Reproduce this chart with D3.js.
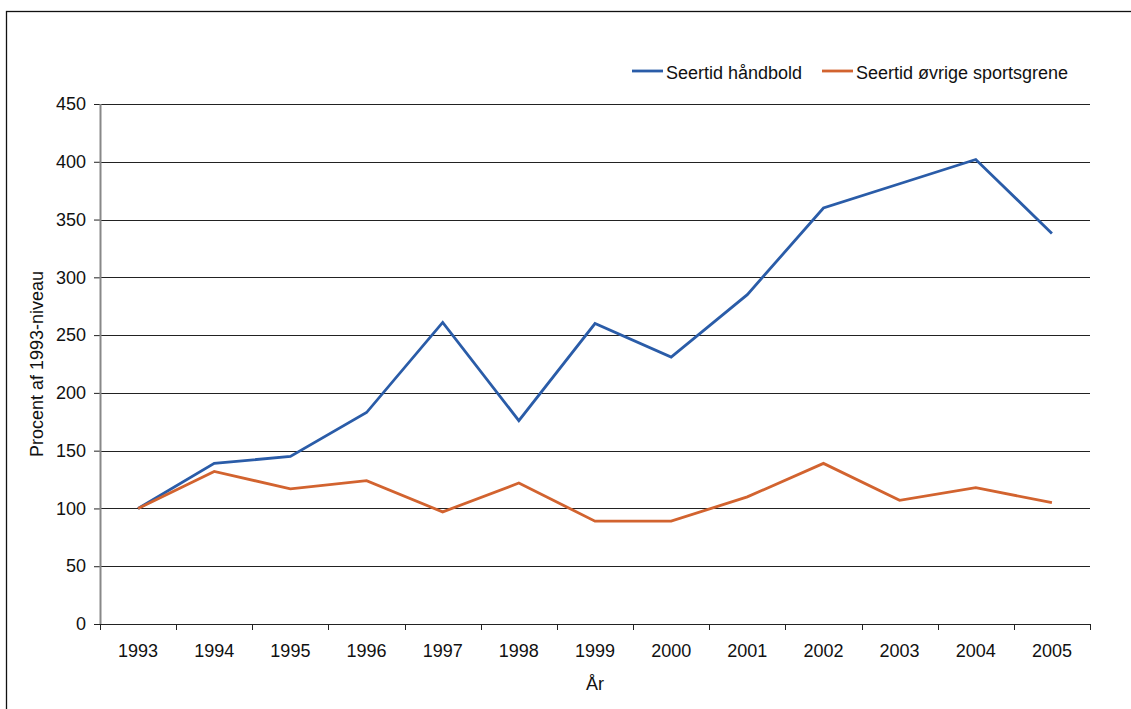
<!DOCTYPE html>
<html>
<head>
<meta charset="utf-8">
<script src="https://cdn.jsdelivr.net/npm/d3@7"></script>
<style>
  body { margin: 0; background: #fff; }
  svg { display: block; font-family: "Liberation Sans", Arial, sans-serif; }
</style>
</head>
<body>
<div id="chart"></div>
<script>
const years = ["1993","1994","1995","1996","1997","1998","1999","2000","2001","2002","2003","2004","2005"];
const haandbold = [100, 139, 145, 183, 261, 176, 260, 231, 285, 360, 381, 402, 338];
const oevrige = [100, 132, 117, 124, 97, 122, 89, 89, 110, 139, 107, 118, 105];
const yTicks = [0, 50, 100, 150, 200, 250, 300, 350, 400, 450];
const seriesNames = ["Seertid håndbold", "Seertid øvrige sportsgrene"];
const colors = ["#2a5ca8", "#d2632f"];

const W = 1131, H = 709;
const margin = {top: 104, right: 41, bottom: 85, left: 100},
    width = W - margin.left - margin.right,
    height = H - margin.top - margin.bottom;
const fs = 18;

const svgRoot = d3.select("#chart")
  .append("svg")
    .attr("width", W)
    .attr("height", H);

// frame
svgRoot.append("rect")
  .attr("x", 6.5).attr("y", 11.5)
  .attr("width", W + 10).attr("height", H + 10)
  .attr("fill", "none")
  .attr("stroke", "#111")
  .attr("stroke-width", 1.3);

const svg = svgRoot.append("g")
  .attr("transform", `translate(${margin.left}, ${margin.top})`);

const x = d3.scaleBand()
  .domain(years)
  .range([0, width])
  .padding(0);

const y = d3.scaleLinear()
  .domain([0, 450])
  .range([height, 0]);

// grid lines
svg.selectAll("gridLine")
  .data(yTicks.filter(d => d > 0))
  .enter()
  .append("line")
    .attr("x1", 0)
    .attr("x2", width)
    .attr("y1", d => Math.round(y(d)) + 0.5)
    .attr("y2", d => Math.round(y(d)) + 0.5)
    .attr("stroke", "#222")
    .attr("stroke-width", 1);

// y axis
const yAxis = svg.append("g")
  .call(d3.axisLeft(y).tickValues(yTicks).tickSize(6).tickPadding(8));
yAxis.select(".domain").remove();
yAxis.selectAll(".tick line").attr("stroke", "#222");
yAxis.selectAll(".tick text")
  .attr("font-size", fs)
  .attr("fill", "#111")
  .attr("font-family", "Liberation Sans, Arial, sans-serif");

svg.append("line")
  .attr("x1", 0.5).attr("x2", 0.5)
  .attr("y1", 0).attr("y2", height)
  .attr("stroke", "#888")
  .attr("stroke-width", 2);

// x axis
svg.append("line")
  .attr("x1", 0).attr("x2", width)
  .attr("y1", height + 0.5).attr("y2", height + 0.5)
  .attr("stroke", "#222");

const edges = years.map(d => x(d)).concat([width]);
svg.selectAll("xTick")
  .data(edges)
  .enter()
  .append("line")
    .attr("x1", d => Math.round(d) + 0.5)
    .attr("x2", d => Math.round(d) + 0.5)
    .attr("y1", height)
    .attr("y2", height + 6)
    .attr("stroke", "#222");

svg.selectAll("xLabel")
  .data(years)
  .enter()
  .append("text")
    .attr("x", d => x(d) + x.bandwidth() / 2)
    .attr("y", height + 33)
    .attr("text-anchor", "middle")
    .attr("font-size", fs)
    .attr("fill", "#111")
    .text(d => d);

svg.append("text")
  .attr("x", width / 2)
  .attr("y", height + 66)
  .attr("text-anchor", "middle")
  .attr("font-size", fs)
  .attr("fill", "#111")
  .text("År");

svg.append("text")
  .attr("transform", `translate(-57, ${height / 2}) rotate(-90)`)
  .attr("text-anchor", "middle")
  .attr("font-size", fs)
  .attr("fill", "#111")
  .text("Procent af 1993-niveau");

// lines
const line = d3.line()
  .x((d, i) => x(years[i]) + x.bandwidth() / 2)
  .y(d => y(d));

[haandbold, oevrige].forEach(function(series, i) {
  svg.append("path")
    .datum(series)
    .attr("fill", "none")
    .attr("stroke", colors[i])
    .attr("stroke-width", 2.8)
    .attr("stroke-linejoin", "miter")
    .attr("d", line);
});

// legend
const legendX = [632, 822];
const legend = svgRoot.selectAll("legendItem")
  .data(seriesNames)
  .enter()
  .append("g")
    .attr("transform", (d, i) => `translate(${legendX[i]}, 71)`);
legend.append("line")
  .attr("x1", 0).attr("x2", 31)
  .attr("y1", 0).attr("y2", 0)
  .attr("stroke", (d, i) => colors[i])
  .attr("stroke-width", 2.8);
legend.append("text")
  .attr("x", 34)
  .attr("y", 8)
  .attr("font-size", fs)
  .attr("fill", "#111")
  .text(d => d);
</script>
</body>
</html>
